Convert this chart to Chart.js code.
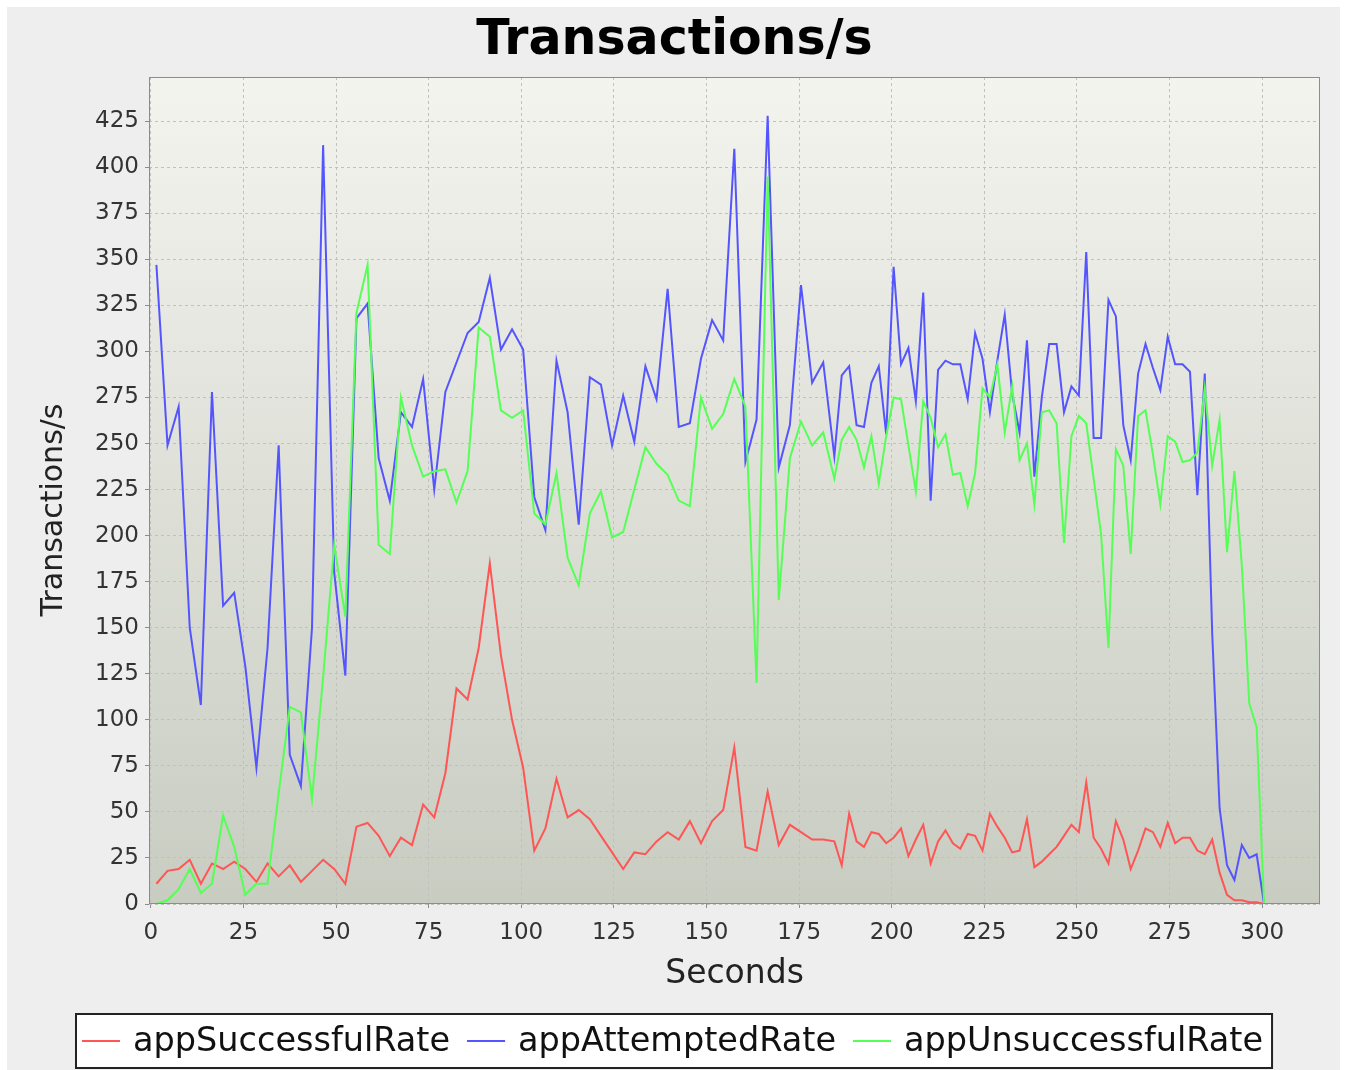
<!DOCTYPE html>
<html><head><meta charset="utf-8">
<script src="https://cdn.jsdelivr.net/npm/chart.js@4/dist/chart.umd.min.js"></script>
<style>html,body{margin:0;padding:0;background:#fff;}canvas{display:block;}</style>
</head><body>
<canvas id="c" width="1345" height="1070"></canvas>
<script>
// ---- data ----
const seconds = [1.5,4.5,7.5,10.5,13.5,16.5,19.5,22.5,25.5,28.5,31.5,34.5,37.5,40.5,43.5,46.5,49.5,52.5,55.5,58.5,61.5,64.5,67.5,70.5,73.5,76.5,79.5,82.5,85.5,88.5,91.5,94.5,97.5,100.5,103.5,106.5,109.5,112.5,115.5,118.5,121.5,124.5,127.5,130.5,133.5,136.5,139.5,142.5,145.5,148.5,151.5,154.5,157.5,160.5,163.5,166.5,169.5,172.5,175.5,178.5,181.5,184.5,
186.5,188.5,190.5,192.5,194.5,196.5,198.5,200.5,202.5,204.5,206.5,208.5,210.5,212.5,214.5,216.5,218.5,220.5,222.5,224.5,226.5,228.5,230.5,232.5,234.5,236.5,238.5,240.5,242.5,244.5,246.5,248.5,250.5,252.5,254.5,256.5,258.5,260.5,262.5,264.5,266.5,268.5,270.5,272.5,274.5,276.5,278.5,280.5,282.5,284.5,286.5,288.5,290.5,292.5,294.5,296.5,298.5,300.5];
const appSuccessfulRate = [11,18,19,24,11,22,19,23,19,12,22,15,21,12,18,24,19,11,42,44,37,26,36,32,54,47,71,117,111,139,185,135,100,74,29,41,68,47,51,46,37,28,19,28,27,34,39,35,45,33,45,51,85,31,29,61,32,43,39,35,35,34,
21,49,34,31,39,38,33,36,41,26,35,43,22,34,40,33,30,38,37,29,49,42,36,28,29,46,20,23,27,31,37,43,39,66,36,30,22,45,35,19,29,41,39,31,44,33,36,36,29,27,35,17,5,2,2,1,1,0];
const appAttemptedRate = [347,249,270,150,108,278,162,169,129,74,139,249,81,64,150,412,180,124,318,326,242,219,267,259,285,225,278,294,310,316,340,301,312,301,221,203,295,267,206,286,282,249,276,251,292,274,334,259,261,296,317,306,410,240,263,428,237,260,336,283,294,243,
287,292,260,259,283,292,255,346,293,302,273,332,219,290,295,293,293,274,310,296,267,295,320,277,256,306,232,275,304,304,267,281,276,354,253,253,328,319,260,241,288,304,291,279,308,293,293,289,222,288,147,52,21,13,32,25,27,0];
const appUnsuccessfulRate = [0,2,8,19,6,11,48,31,5,11,11,60,107,104,57,123,195,156,321,347,195,190,275,249,232,235,236,218,235,313,308,268,264,268,212,206,234,188,173,212,224,199,202,225,248,239,233,219,216,275,258,266,285,270,120,395,165,242,262,249,256,231,
252,259,252,237,254,228,254,275,274,249,224,273,264,248,255,233,234,216,234,280,275,293,256,281,241,250,217,267,268,261,196,254,265,261,231,201,139,247,238,190,265,268,244,217,254,251,240,241,245,280,238,263,191,235,184,109,96,0];
const seriesNames = ['appSuccessfulRate','appAttemptedRate','appUnsuccessfulRate'];
const xTicks = [0,25,50,75,100,125,150,175,200,225,250,275,300];
const yTicks = [0,25,50,75,100,125,150,175,200,225,250,275,300,325,350,375,400,425];
const chartTitle = 'Transactions/s';
const xTitle = 'Seconds';
const yTitle = 'Transactions/s';

// ---- styles / layout ----
const W = 1345, H = 1070;
const FONT = '"DejaVu Sans", sans-serif';
const colors = ['#ff5555', '#5555ff', '#55ff55'];
const toPts = arr => arr.map((v, i) => ({x: seconds[i], y: v}));

const decor = {
  id: 'decor',
  beforeDraw(chart) {
    const {ctx, chartArea: a} = chart;
    ctx.save();
    ctx.fillStyle = '#ffffff'; ctx.fillRect(0, 0, W, H);
    ctx.fillStyle = '#eeeeee'; ctx.fillRect(7, 7, 1333, H - 7);
    const g = ctx.createLinearGradient(0, a.top, 0, a.bottom);
    g.addColorStop(0, '#f4f4ef'); g.addColorStop(1, '#c8ccc1');
    ctx.fillStyle = g; ctx.fillRect(a.left, a.top, a.right - a.left, a.bottom - a.top);
    ctx.restore();
  },
  afterDraw(chart) {
    const {ctx, chartArea: a} = chart;
    ctx.save();
    ctx.strokeStyle = '#8c8c8c'; ctx.lineWidth = 1;
    ctx.strokeRect(a.left + 0.5, a.top + 0.5, a.right - a.left - 1, a.bottom - a.top - 1);
    // chart title
    ctx.fillStyle = '#000'; ctx.textAlign = 'center'; ctx.textBaseline = 'alphabetic';
    ctx.font = 'bold 49px ' + FONT;
    ctx.fillText(chartTitle, 674.5, 54);
    // y axis title
    ctx.save();
    ctx.translate(54, 510); ctx.rotate(-Math.PI / 2);
    ctx.font = '30px ' + FONT; ctx.fillStyle = '#222'; ctx.textBaseline = 'middle';
    ctx.fillText(yTitle, 0, 0);
    ctx.restore();
    // legend
    ctx.font = '33.5px ' + FONT;
    const sample = 38, gapText = 13, gapItem = 17, padL = 7, padR = 10;
    const widths = seriesNames.map(n => ctx.measureText(n).width);
    let total = padL + padR;
    widths.forEach((w, i) => { total += sample + gapText + w + (i ? gapItem : 0); });
    const bx = Math.round(674.5 - total / 2), by = 1013, bh = 56;
    ctx.fillStyle = '#ffffff'; ctx.fillRect(bx, by, total, bh);
    ctx.strokeStyle = '#222'; ctx.lineWidth = 2;
    ctx.strokeRect(bx + 1, by + 1, total - 2, bh - 2);
    let x = bx + padL; const cy = 1041;
    ctx.textBaseline = 'middle'; ctx.textAlign = 'left';
    seriesNames.forEach((n, i) => {
      ctx.strokeStyle = colors[i]; ctx.lineWidth = 2;
      ctx.beginPath(); ctx.moveTo(x, cy); ctx.lineTo(x + sample, cy); ctx.stroke();
      x += sample + gapText;
      ctx.fillStyle = '#111'; ctx.fillText(n, x, cy + 1);
      x += widths[i] + gapItem;
    });
    ctx.restore();
  }
};

new Chart(document.getElementById('c'), {
  type: 'line',
  data: {
    datasets: [
      {label: seriesNames[0], data: toPts(appSuccessfulRate), borderColor: colors[0], order: 2},
      {label: seriesNames[1], data: toPts(appAttemptedRate), borderColor: colors[1], order: 1},
      {label: seriesNames[2], data: toPts(appUnsuccessfulRate), borderColor: colors[2], order: 0}
    ]
  },
  options: {
    responsive: false, animation: false, devicePixelRatio: 1,
    elements: {line: {borderWidth: 2, tension: 0, fill: false}, point: {radius: 0}},
    layout: {padding: {left: 0, right: 25, top: 77, bottom: 70}},
    plugins: {legend: {display: false}, tooltip: {enabled: false}, title: {display: false}},
    scales: {
      x: {
        type: 'linear', min: -0.5, max: 315.6,
        afterFit(s) { s.height = 96; },
        afterBuildTicks(s) { s.ticks = xTicks.map(v => ({value: v})); },
        ticks: {font: {family: FONT, size: 23}, color: '#333', padding: 11, maxRotation: 0, autoSkip: false},
        grid: {color: '#c0c0c0', lineWidth: 1, drawTicks: true, tickLength: 4, tickColor: '#8c8c8c', tickWidth: 1},
        border: {display: false, dash: [3, 3]},
        title: {display: true, text: xTitle, color: '#222', font: {family: FONT, size: 33, lineHeight: 1.2}, padding: {top: 0, bottom: 6}}
      },
      y: {
        type: 'linear', min: 0, max: 449,
        afterFit(s) { s.width = 149; },
        afterBuildTicks(s) { s.ticks = yTicks.map(v => ({value: v})); },
        ticks: {font: {family: FONT, size: 23}, color: '#333', padding: 6, autoSkip: false},
        grid: {color: '#c0c0c0', lineWidth: 1, drawTicks: true, tickLength: 4, tickColor: '#8c8c8c', tickWidth: 1},
        border: {display: false, dash: [3, 3]},
        title: {display: false}
      }
    }
  },
  plugins: [decor]
});
</script>
</body></html>
